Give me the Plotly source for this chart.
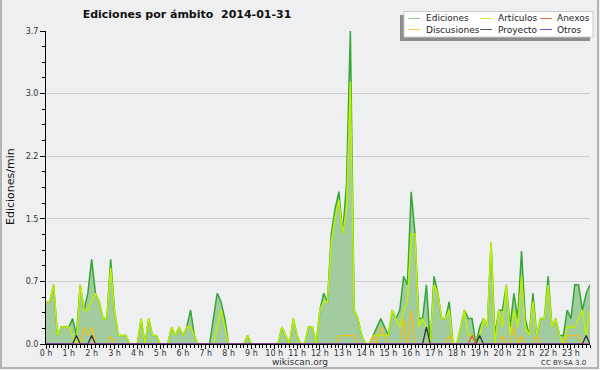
import plotly.graph_objects as go

# 10-minute slots, 0..143 (0:00 .. 23:50), values in edits/min
ediciones = [0.5,0.5,0.7,0.1,0.2,0.2,0.2,0.3,0.1,0.7,0.4,0.6,1.0,0.6,0.5,0.3,0.3,1.0,0.4,0.1,
             0.1,0.1,0,0,0,0.3,0,0.3,0.1,0.1,0,0,0,0.2,0.1,0.2,0.1,0.2,0.4,0.1,
             0,0,0,0,0.3,0.6,0.5,0.3,0,0,0,0,0,0.1,0,0,0,0,0,0,
             0,0,0.2,0.1,0,0.3,0.1,0,0,0.2,0.2,0,0.4,0.6,0.5,1.3,1.6,1.8,1.3,1.9,
             3.7,0.4,0.3,0.1,0,0,0.1,0.2,0.3,0.2,0.1,0.4,0.3,0.4,0.8,0.7,1.8,1.3,0.3,0.3,
             0.7,0,0.8,0.6,0.3,0.3,0.5,0,0,0.2,0.4,0.3,0.3,0,0.2,0.3,0.2,1.2,0.1,0.4,
             0.4,0.7,0.2,0.6,0.3,1.1,0.3,0.1,0.6,0.1,0.3,0.3,0.8,0.2,0.3,0.1,0.1,0.4,0.3,0.7,
             0.7,0.4,0.6,0.7]
articulos = [0.5,0.5,0.7,0.1,0.2,0.2,0.2,0.1,0,0.7,0.4,0.4,0.5,0.6,0.5,0.3,0.3,0.9,0.4,0.1,
             0.1,0.1,0,0,0,0.3,0,0.3,0.1,0.1,0,0,0,0.2,0.1,0.2,0.1,0.2,0.2,0.1,
             0,0,0,0,0,0.2,0.4,0.2,0,0,0,0,0,0.1,0,0,0,0,0,0,
             0,0,0.2,0.1,0,0.3,0.1,0,0,0.2,0.2,0,0.4,0.5,0.5,1.2,1.5,1.7,1.3,1.6,
             3.1,0.4,0.3,0.1,0,0,0.1,0.1,0.1,0.1,0.1,0.4,0.3,0.2,0.4,0.5,1.3,1.3,0.2,0.3,
             0.2,0,0.7,0.6,0.3,0.3,0.4,0,0,0.2,0.4,0.1,0.1,0,0.1,0.3,0.2,1.2,0,0.4,
             0.2,0.7,0.1,0.4,0.2,0.8,0.2,0.1,0.5,0.1,0.3,0.3,0.7,0.2,0.3,0.1,0,0.2,0.2,0.2,
             0.3,0.4,0.1,0.4]
discusiones = [0,0,0,0,0,0,0,0,0,0,0.2,0.1,0.2,0,0,0,0,0.1,0,0,
               0,0,0,0,0,0,0,0,0,0,0,0,0,0,0,0,0,0,0,0,
               0,0,0,0,0,0,0,0,0,0,0,0,0,0,0,0,0,0,0,0,
               0,0,0,0,0,0,0,0,0,0,0,0,0,0,0,0,0,0.1,0.1,0.1,
               0.1,0.1,0,0,0,0,0.1,0,0.2,0.1,0,0,0,0,0.3,0,0.4,0,0,0,
               0,0,0,0,0,0,0.1,0,0,0,0,0,0,0,0,0,0,0,0,0,
               0.1,0,0,0.2,0,0.1,0,0,0,0.1,0,0,0,0,0,0,0,0.1,0.1,0.1,
               0.1,0,0,0]
anexos = [0]*112 + [0.1] + [0]*31
proyecto = [0]*144
for i, v in [(8, 0.1), (12, 0.1), (100, 0.2), (114, 0.1), (142, 0.1)]:
    proyecto[i] = v
otros = [0]*144

slots = list(range(144))
hour_ticks = list(range(0, 144, 6))
hour_labels = [f"{h} h" for h in range(24)]
y_ticks = [0, 0.74, 1.48, 2.22, 2.96, 3.7]
y_labels = ["0.0", "0.7", "1.5", "2.2", "3.0", "3.7"]

BG = "#eeeff1"
FONT = "DejaVu Sans"
L, R, T, B = 46, 10, 31, 26
W, H = 600, 370
PW, PH = W - L - R, H - T - B

def px(x):
    return (x - L) / PW

def py(y):
    return (H - B - y) / PH

fig = go.Figure()
fig.add_trace(go.Scatter(x=slots, y=ediciones, mode="lines", name="Ediciones",
                         line=dict(color="#33a633", width=1.5),
                         fill="tozeroy", fillcolor="#a0cca0"))
fig.add_trace(go.Scatter(x=slots, y=articulos, mode="lines", name="Artículos",
                         line=dict(color="#bfef00", width=1.5)))
fig.add_trace(go.Scatter(x=slots, y=discusiones, mode="lines", name="Discusiones",
                         line=dict(color="#f2c01a", width=1.3)))
fig.add_trace(go.Scatter(x=slots, y=anexos, mode="lines", name="Anexos",
                         line=dict(color="#f05a1e", width=1.3)))
fig.add_trace(go.Scatter(x=slots, y=proyecto, mode="lines", name="Proyecto",
                         line=dict(color="#333333", width=1.3)))
fig.add_trace(go.Scatter(x=slots, y=otros, mode="lines", name="Otros",
                         line=dict(color="#8a3ff0", width=1)))

shapes = []
annotations = []

# outer panel border
shapes.append(dict(type="path", xref="paper", yref="paper",
                   path=f"M {px(1)},{py(0)} L {px(1)},{py(368)} L {px(598)},{py(368)} L {px(598)},{py(0)}",
                   line=dict(color="#b4b4b4", width=2)))

# legend box with shadow
shapes.append(dict(type="rect", xref="paper", yref="paper",
                   x0=px(400), x1=px(590), y0=py(15), y1=py(41),
                   fillcolor="#8c8c8c", line=dict(width=0)))
shapes.append(dict(type="rect", xref="paper", yref="paper",
                   x0=px(404), x1=px(593), y0=py(11.5), y1=py(37),
                   fillcolor="#ffffff", line=dict(color="#cccccc", width=1)))
legend_items = [
    ("Ediciones", "#88cc88", 408, 424, 18.5),
    ("Artículos", "#ccee44", 480, 496, 18.5),
    ("Anexos", "#ee7744", 540, 555, 18.5),
    ("Discusiones", "#ffcc44", 408, 424, 29.5),
    ("Proyecto", "#555555", 480, 496, 29.5),
    ("Otros", "#8844ee", 540, 555, 29.5),
]
for name, col, sx, tx, yy in legend_items:
    shapes.append(dict(type="line", xref="paper", yref="paper",
                       x0=px(sx), x1=px(sx + 12), y0=py(yy), y1=py(yy),
                       line=dict(color=col, width=1)))
    annotations.append(dict(text=name, xref="paper", yref="paper", x=px(tx), y=py(yy),
                            xanchor="left", yanchor="middle", showarrow=False,
                            font=dict(family=FONT, size=9, color="#222222")))

# y axis title
annotations.append(dict(text="Ediciones/min", xref="paper", yref="paper",
                        x=px(10), y=py(187), textangle=-90, showarrow=False,
                        xanchor="center", yanchor="middle",
                        font=dict(family=FONT, size=11, color="#111111")))
# footer texts
annotations.append(dict(text="wikiscan.org", xref="paper", yref="paper",
                        x=px(300), y=py(362), showarrow=False,
                        xanchor="center", yanchor="middle",
                        font=dict(family=FONT, size=9, color="#333333")))
annotations.append(dict(text="CC BY-SA 3.0", xref="paper", yref="paper",
                        x=px(563), y=py(363), showarrow=False,
                        xanchor="center", yanchor="middle",
                        font=dict(family=FONT, size=7, color="#333333")))

fig.update_layout(
    width=W, height=H,
    margin=dict(l=L, r=R, t=T, b=B, pad=0),
    paper_bgcolor=BG, plot_bgcolor=BG,
    showlegend=False,
    title=dict(text="<b>Ediciones por ámbito  2014-01-31</b>", x=187 / W, xanchor="center",
               y=1 - 14 / H, yanchor="middle", xref="container", yref="container",
               font=dict(family=FONT, size=11, color="#111111")),
    shapes=shapes, annotations=annotations,
    xaxis=dict(range=[0, 143], tickmode="array", tickvals=hour_ticks, ticktext=hour_labels,
               ticks="outside", ticklen=4, tickcolor="#000000", tickwidth=1,
               ticklabelstandoff=-3,
               showline=True, linecolor="#000000", linewidth=1, showgrid=False, zeroline=False,
               tickfont=dict(family=FONT, size=8, color="#333333"),
               minor=dict(tickmode="linear", tick0=0, dtick=1, ticklen=3, tickcolor="#000000",
                          ticks="outside", showgrid=False),
               fixedrange=True),
    yaxis=dict(range=[0, 3.7], tickmode="array", tickvals=y_ticks, ticktext=y_labels,
               ticks="outside", ticklen=5, tickcolor="#000000", tickwidth=1,
               showline=True, linecolor="#000000", linewidth=1,
               showgrid=True, gridcolor="#cccccc", gridwidth=1, zeroline=False,
               tickfont=dict(family=FONT, size=8, color="#333333"),
               minor=dict(tickmode="linear", tick0=0, dtick=0.185, ticklen=3, tickcolor="#000000",
                          ticks="outside", showgrid=False),
               fixedrange=True),
)

fig.write_html("out.html", config={"displayModeBar": False},
               post_script="document.body.style.margin='0';document.body.style.padding='0';"
                           "document.body.style.background='" + BG + "';")
